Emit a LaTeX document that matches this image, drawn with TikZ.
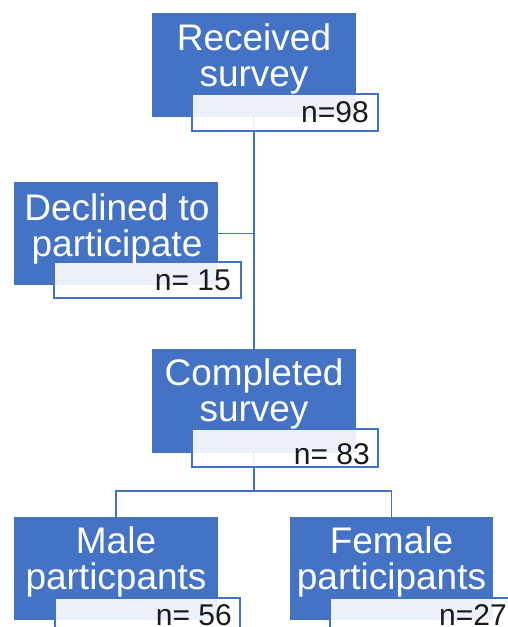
\documentclass[tikz,border=0pt]{standalone}
\usepackage{fontspec}
\setmainfont{Liberation Sans}
\definecolor{boxblue}{HTML}{4472C4}
\definecolor{ntext}{HTML}{1A1A1A}
\begin{document}
\begin{tikzpicture}[x=1pt,y=-1pt,
  bluebox/.style={draw=none, fill=boxblue, inner sep=0pt},
  labelbox/.style={draw=boxblue, line width=1.5pt, fill=white, fill opacity=0.9, inner sep=0pt},
  conn/.style={draw=boxblue, line width=1.5pt},
  wtxt/.style={text=white, inner sep=0pt, anchor=base, font=\fontsize{37}{37}\selectfont},
  ntxt/.style={text=ntext, inner sep=0pt, anchor=base east, font=\fontsize{30}{30}\selectfont}]
\useasboundingbox (0,0) rectangle (508,627);
% blue boxes
\node[bluebox, minimum width=204pt, minimum height=104pt] (b1) at (254,65) {};
\node[bluebox, minimum width=204pt, minimum height=103pt] (b2) at (116,233.5) {};
\node[bluebox, minimum width=204pt, minimum height=104pt] (b3) at (254,401) {};
\node[bluebox, minimum width=204pt, minimum height=103pt] (b4) at (116,568.5) {};
\node[bluebox, minimum width=203pt, minimum height=103pt] (b5) at (391.5,568.5) {};
% connectors
\coordinate (split) at (254,491);
\draw[conn] (b1.south) -- (b3.north);
\draw[conn] (b2.east) -- (b2.east -| b1.south);
\draw[conn] (b3.south) -- (split);
\draw[conn] (b4.north) |- (split) -| (b5.north);
% label boxes
\node[labelbox, minimum width=186pt, minimum height=37pt] (l1) at (285,112.5) {};
\node[labelbox, minimum width=187pt, minimum height=36pt] (l2) at (147.5,280) {};
\node[labelbox, minimum width=186pt, minimum height=38pt] (l3) at (285,448) {};
\node[labelbox, minimum width=185pt, minimum height=42pt] (l4) at (147.5,619) {};
\node[labelbox, minimum width=190pt, minimum height=42pt] (l5) at (425,619) {};
% white texts
\node[wtxt] (t1a) at (254,50) {Received};
\node[wtxt] (t1b) at (254,86.5) {survey};
\node[wtxt] (t2a) at (117,220) {Declined to};
\node[wtxt] (t2b) at (117,256) {participate};
\node[wtxt] (t3a) at (254,385) {Completed};
\node[wtxt] (t3b) at (254,421) {survey};
\node[wtxt] (t4a) at (116,553) {Male};
\node[wtxt] (t4b) at (116,589.5) {particpants};
\node[wtxt] (t5a) at (391.5,553) {Female};
\node[wtxt] (t5b) at (391.5,589.5) {participants};
% n texts
\node[ntxt] (n1) at (369,122) {n=98};
\node[ntxt] (n2) at (231,290.7) {n= 15};
\node[ntxt] (n3) at (370,464) {n= 83};
\node[ntxt] (n4) at (232,625.5) {n= 56};
\node[ntxt] (n5) at (507,625) {n=27};
\end{tikzpicture}
\end{document}
